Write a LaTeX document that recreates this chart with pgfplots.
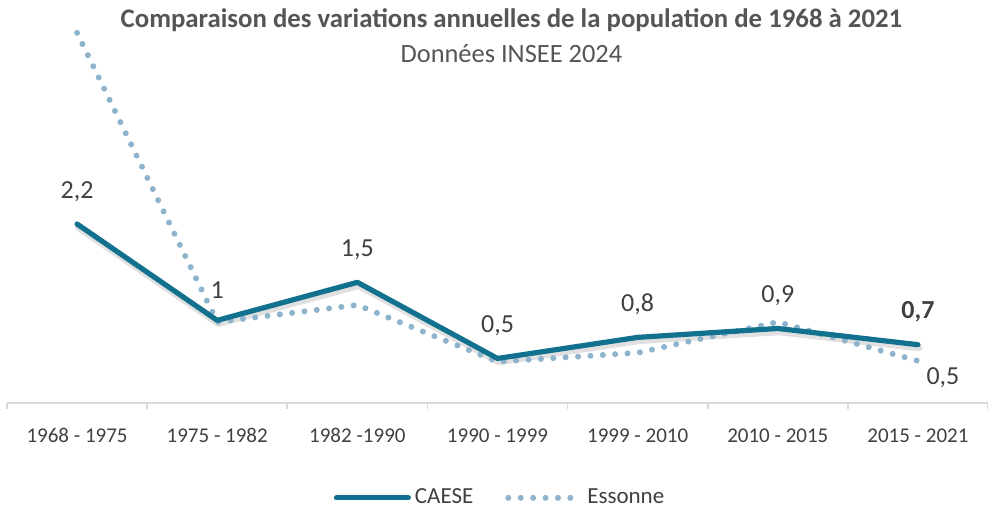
\documentclass[border=0pt]{standalone}
\usepackage{pgfplots}
\pgfplotsset{compat=1.18}
\usepackage{fontspec}
\setmainfont{Carlito}
\definecolor{caese}{HTML}{12718F}
\definecolor{esso}{HTML}{8DB3CD}
\definecolor{txt}{HTML}{404040}
\definecolor{ttl}{HTML}{555555}
\definecolor{axl}{HTML}{D9D9D9}
\begin{document}
\begin{tikzpicture}
\useasboundingbox (-3.5bp,-54bp) rectangle (490.5bp,201.5bp);
\begin{axis}[
  at={(0,0)}, anchor=south west,
  scale only axis,
  width=490.5bp, height=194.4bp,
  xmin=-0.5, xmax=6.5, ymin=0, ymax=4.8,
  axis x line=bottom, axis y line=none,
  x axis line style={-, draw=axl, line width=0.8bp},
  xtick={0,...,6},
  xticklabels={1968 - 1975,1975 - 1982,1982 -1990,1990 - 1999,1999 - 2010,2010 - 2015,2015 - 2021},
  major x tick style={draw=none},
  minor xtick={-0.5,0.5,...,6.5},
  minor x tick style={draw=axl, line width=0.8bp},
  minor tick length=3bp,
  tick align=outside,
  xticklabel style={font=\fontsize{10.5bp}{12bp}\selectfont, text=txt, yshift=-5bp},
  clip=false,
  reverse legend,
  legend style={at={(0.5036,-0.244)}, anchor=center, draw=none, fill=none,
    font=\fontsize{11.5bp}{13bp}\selectfont, text=txt, legend columns=2,
    /tikz/every even column/.append style={column sep=14bp}},
  legend cell align=left,
  nodes near coords={\pgfplotspointmeta},
  every node near coord/.append style={font=\fontsize{13bp}{15bp}\selectfont, text=txt},
]
% shadow
\addplot[forget plot, draw=black, opacity=0.12, line width=3.5bp, line join=round, line cap=round,
  shift={(0.6bp,-1.6bp)}, nodes near coords={}] coordinates {
(0,2.21) (1,1.02) (2,1.49) (3,0.55) (4,0.81) (5,0.92) (6,0.72)};
\addplot[draw=esso, line width=3bp, line cap=round, dash pattern=on 0pt off 6.2bp,
  nodes near coords={}, legend image code/.code={\draw[esso, line width=3bp, line cap=round, dash pattern=on 0pt off 6.2bp] (0bp,0bp) -- (36bp,0bp);}]
  coordinates {(0,4.57) (1,1.00) (2,1.21) (3,0.51) (4,0.62) (5,1.00) (6,0.52)};
\addlegendentry{Essonne}
\addplot[draw=caese, line width=2.6bp, line join=round, line cap=round,
  point meta=explicit symbolic,
  every node near coord/.append style={yshift=6.5bp},
  legend image code/.code={\draw[caese, line width=2.6bp, line cap=round] (0bp,0bp) -- (36bp,0bp);}]
  table[meta=lab] {
x y lab
0 2.21 2,2
1 1.02 1
2 1.49 1,5
3 0.55 0,5
4 0.81 0,8
5 0.92 0,9
6 0.72 \textbf{0,7}
};
\addlegendentry{CAESE}
\addplot[draw=none, point meta=explicit symbolic,
  every node near coord/.append style={anchor=center, xshift=12.5bp, yshift=-8.5bp}, forget plot]
  table[meta=lab] {
x y lab
6 0.52 0,5
};
\end{axis}
\node[font=\fontsize{13.4bp}{15bp}\selectfont\bfseries, text=ttl] at (252.2bp,191.3bp) {Comparaison des variations annuelles de la population de 1968 à 2021};
\node[font=\fontsize{13.2bp}{15bp}\selectfont, text=ttl] at (252.2bp,174.5bp) {Données INSEE 2024};
\end{tikzpicture}
\end{document}
